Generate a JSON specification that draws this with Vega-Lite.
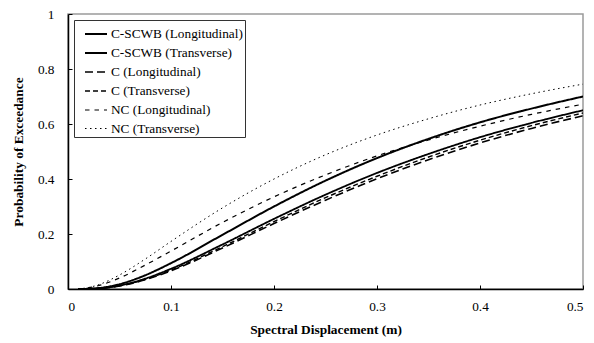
{
  "$schema": "https://vega.github.io/schema/vega-lite/v6.json",
  "autosize": "none",
  "width": 515,
  "height": 275,
  "padding": {"left": 68, "top": 14, "right": 11, "bottom": 54},
  "background": "white",
  "data": {"values": [
    {"s":"C-SCWB (Longitudinal)","x":0.01,"p":0.0},
    {"s":"C-SCWB (Longitudinal)","x":0.02,"p":0.0008},
    {"s":"C-SCWB (Longitudinal)","x":0.03,"p":0.0035},
    {"s":"C-SCWB (Longitudinal)","x":0.05,"p":0.0174},
    {"s":"C-SCWB (Longitudinal)","x":0.075,"p":0.050},
    {"s":"C-SCWB (Longitudinal)","x":0.1,"p":0.094},
    {"s":"C-SCWB (Longitudinal)","x":0.15,"p":0.197},
    {"s":"C-SCWB (Longitudinal)","x":0.2,"p":0.300},
    {"s":"C-SCWB (Longitudinal)","x":0.25,"p":0.394},
    {"s":"C-SCWB (Longitudinal)","x":0.3,"p":0.476},
    {"s":"C-SCWB (Longitudinal)","x":0.35,"p":0.546},
    {"s":"C-SCWB (Longitudinal)","x":0.4,"p":0.606},
    {"s":"C-SCWB (Longitudinal)","x":0.45,"p":0.656},
    {"s":"C-SCWB (Longitudinal)","x":0.5,"p":0.700},

    {"s":"C-SCWB (Transverse)","x":0.01,"p":0.0},
    {"s":"C-SCWB (Transverse)","x":0.02,"p":0.0005},
    {"s":"C-SCWB (Transverse)","x":0.03,"p":0.0024},
    {"s":"C-SCWB (Transverse)","x":0.05,"p":0.0125},
    {"s":"C-SCWB (Transverse)","x":0.075,"p":0.0377},
    {"s":"C-SCWB (Transverse)","x":0.1,"p":0.0735},
    {"s":"C-SCWB (Transverse)","x":0.15,"p":0.162},
    {"s":"C-SCWB (Transverse)","x":0.2,"p":0.255},
    {"s":"C-SCWB (Transverse)","x":0.25,"p":0.343},
    {"s":"C-SCWB (Transverse)","x":0.3,"p":0.422},
    {"s":"C-SCWB (Transverse)","x":0.35,"p":0.491},
    {"s":"C-SCWB (Transverse)","x":0.4,"p":0.552},
    {"s":"C-SCWB (Transverse)","x":0.45,"p":0.604},
    {"s":"C-SCWB (Transverse)","x":0.5,"p":0.650},

    {"s":"C (Longitudinal)","x":0.01,"p":0.0},
    {"s":"C (Longitudinal)","x":0.02,"p":0.0004},
    {"s":"C (Longitudinal)","x":0.03,"p":0.002},
    {"s":"C (Longitudinal)","x":0.05,"p":0.0109},
    {"s":"C (Longitudinal)","x":0.075,"p":0.0335},
    {"s":"C (Longitudinal)","x":0.1,"p":0.0663},
    {"s":"C (Longitudinal)","x":0.15,"p":0.149},
    {"s":"C (Longitudinal)","x":0.2,"p":0.238},
    {"s":"C (Longitudinal)","x":0.25,"p":0.323},
    {"s":"C (Longitudinal)","x":0.3,"p":0.401},
    {"s":"C (Longitudinal)","x":0.35,"p":0.470},
    {"s":"C (Longitudinal)","x":0.4,"p":0.531},
    {"s":"C (Longitudinal)","x":0.45,"p":0.584},
    {"s":"C (Longitudinal)","x":0.5,"p":0.630},

    {"s":"C (Transverse)","x":0.01,"p":0.0},
    {"s":"C (Transverse)","x":0.02,"p":0.0004},
    {"s":"C (Transverse)","x":0.03,"p":0.0021},
    {"s":"C (Transverse)","x":0.05,"p":0.0114},
    {"s":"C (Transverse)","x":0.075,"p":0.035},
    {"s":"C (Transverse)","x":0.1,"p":0.069},
    {"s":"C (Transverse)","x":0.15,"p":0.154},
    {"s":"C (Transverse)","x":0.2,"p":0.245},
    {"s":"C (Transverse)","x":0.25,"p":0.332},
    {"s":"C (Transverse)","x":0.3,"p":0.410},
    {"s":"C (Transverse)","x":0.35,"p":0.480},
    {"s":"C (Transverse)","x":0.4,"p":0.541},
    {"s":"C (Transverse)","x":0.45,"p":0.594},
    {"s":"C (Transverse)","x":0.5,"p":0.640},

    {"s":"NC (Longitudinal)","x":0.01,"p":0.0005},
    {"s":"NC (Longitudinal)","x":0.02,"p":0.0044},
    {"s":"NC (Longitudinal)","x":0.03,"p":0.0127},
    {"s":"NC (Longitudinal)","x":0.05,"p":0.040},
    {"s":"NC (Longitudinal)","x":0.075,"p":0.087},
    {"s":"NC (Longitudinal)","x":0.1,"p":0.138},
    {"s":"NC (Longitudinal)","x":0.15,"p":0.242},
    {"s":"NC (Longitudinal)","x":0.2,"p":0.335},
    {"s":"NC (Longitudinal)","x":0.25,"p":0.415},
    {"s":"NC (Longitudinal)","x":0.3,"p":0.484},
    {"s":"NC (Longitudinal)","x":0.35,"p":0.542},
    {"s":"NC (Longitudinal)","x":0.4,"p":0.592},
    {"s":"NC (Longitudinal)","x":0.45,"p":0.635},
    {"s":"NC (Longitudinal)","x":0.5,"p":0.672},

    {"s":"NC (Transverse)","x":0.01,"p":0.0006},
    {"s":"NC (Transverse)","x":0.02,"p":0.0054},
    {"s":"NC (Transverse)","x":0.03,"p":0.016},
    {"s":"NC (Transverse)","x":0.05,"p":0.051},
    {"s":"NC (Transverse)","x":0.075,"p":0.109},
    {"s":"NC (Transverse)","x":0.1,"p":0.173},
    {"s":"NC (Transverse)","x":0.15,"p":0.295},
    {"s":"NC (Transverse)","x":0.2,"p":0.400},
    {"s":"NC (Transverse)","x":0.25,"p":0.488},
    {"s":"NC (Transverse)","x":0.3,"p":0.560},
    {"s":"NC (Transverse)","x":0.35,"p":0.619},
    {"s":"NC (Transverse)","x":0.4,"p":0.669},
    {"s":"NC (Transverse)","x":0.45,"p":0.710},
    {"s":"NC (Transverse)","x":0.5,"p":0.745}
  ]},
  "mark": {"type": "line", "interpolate": "monotone", "color": "black", "clip": true},
  "encoding": {
    "x": {
      "field": "x", "type": "quantitative",
      "scale": {"domain": [0, 0.5], "nice": false, "zero": false},
      "axis": {"values": [0, 0.1, 0.2, 0.3, 0.4, 0.5], "format": "~g", "title": "Spectral Displacement (m)", "titlePadding": 10}
    },
    "y": {
      "field": "p", "type": "quantitative",
      "scale": {"domain": [0, 1], "nice": false},
      "axis": {"values": [0, 0.2, 0.4, 0.6, 0.8, 1], "format": "~g", "title": "Probability of Exceedance", "titlePadding": 12}
    },
    "strokeDash": {
      "field": "s", "type": "nominal",
      "scale": {
        "domain": ["C-SCWB (Longitudinal)", "C-SCWB (Transverse)", "C (Longitudinal)", "C (Transverse)", "NC (Longitudinal)", "NC (Transverse)"],
        "range": [[1, 0], [1, 0], [8, 4], [5, 3], [4.5, 5], [1.5, 3.5]]
      },
      "legend": {
        "title": null,
        "encode": {"symbols": {"update": {"strokeWidth": {"signal": "indexof(datum.value, 'Longitudinal') >= 0 ? 2.3 : 1"}}}}
      }
    },
    "strokeWidth": {
      "field": "s", "type": "nominal",
      "scale": {
        "domain": ["C-SCWB (Longitudinal)", "C-SCWB (Transverse)", "C (Longitudinal)", "C (Transverse)", "NC (Longitudinal)", "NC (Transverse)"],
        "range": [2, 1, 2.5, 1, 2.5, 1.2]
      },
      "legend": null
    }
  },
  "config": {
    "font": "Liberation Serif",
    "view": {"stroke": "#9a9a9a", "strokeWidth": 1.5},
    "axis": {
      "grid": false,
      "domainColor": "black",
      "domainWidth": 1.5,
      "tickColor": "black",
      "tickSize": -4,
      "labelFont": "Liberation Serif",
      "labelFontSize": 13.3,
      "labelColor": "black",
      "titleFont": "Liberation Serif",
      "titleFontSize": 13.4,
      "titleFontWeight": "bold",
      "titleColor": "black"
    },
    "axisX": {"labelPadding": 14},
    "axisY": {"labelPadding": 18},
    "legend": {
      "orient": "top-left",
      "offset": 6,
      "padding": 2,
      "symbolOffset": 8,
      "strokeColor": "#333",
      "fillColor": "white",
      "labelFont": "Liberation Serif",
      "labelFontSize": 13.3,
      "labelColor": "black",
      "labelLimit": 300,
      "labelOffset": 3,
      "symbolType": "stroke",
      "symbolSize": 484,
      "symbolStrokeColor": "black",
      "rowPadding": -4
    }
  }
}
